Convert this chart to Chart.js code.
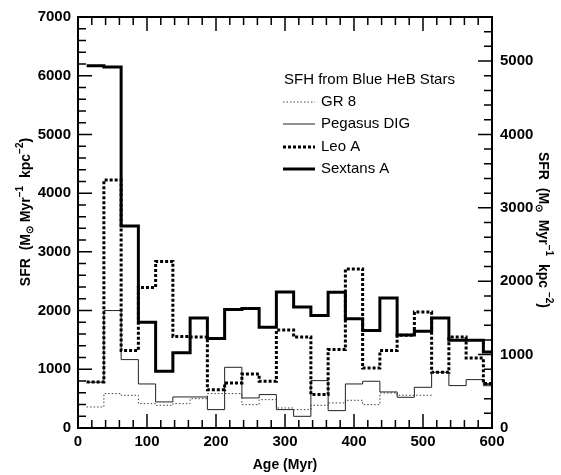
<!DOCTYPE html>
<html>
<head>
<meta charset="utf-8">
<script src="https://cdn.jsdelivr.net/npm/chart.js@4"></script>
<style>
  html, body { margin: 0; padding: 0; background: #fff; }
  canvas { display: block; }
</style>
</head>
<body>
<canvas id="sfhChart" width="561" height="475"></canvas>
<script>
// bin centres (Myr), each bin is 25 Myr wide
const binCenters = [25, 50, 75, 100, 125, 150, 175, 200, 225, 250, 275, 300,
  325, 350, 375, 400, 425, 450, 475, 500, 525, 550, 575, 600];
const binWidth = 25;

const gr8 = [358, 586, 557, 415, 387, 415, 500, 586, 586, 398, 483, 341,
  313, 387, 427, 472, 398, 597, 557, 557];
const pegasusDIG = [780, 2000, 1165, 750, 444, 529, 529, 313, 1034, 512, 569, 313,
  199, 807, 296, 750, 796, 614, 523, 693, 949, 722, 824, 720];
const leoA = [785, 4225, 1320, 2395, 2835, 1560, 1550, 650, 767, 921, 796, 1671,
  1551, 569, 1335, 2710, 1020, 1318, 1580, 1977, 949, 1551, 1193, 756];
const sextansA = [6170, 6150, 3440, 1800, 966, 1280, 1875, 1523, 2017, 2034, 1716, 2318,
  2062, 1915, 2313, 1860, 1659, 2216, 1585, 1648, 1875, 1494, 1494, 1296];

const xTickLabels = [0, 100, 200, 300, 400, 500, 600];
const yTickLabels = [0, 1000, 2000, 3000, 4000, 5000, 6000, 7000];
const y2TickLabels = [0, 1000, 2000, 3000, 4000, 5000];
const y2Max = 5600; // right axis = left axis * 0.8

const seriesNames = ['GR 8', 'Pegasus DIG', 'Leo A', 'Sextans A'];
const legendTitle = 'SFH from Blue HeB Stars';

// turn bin values into step points (left edge of every bin + right edge of last)
function toSteps(vals) {
  const pts = vals.map((v, i) => ({ x: binCenters[i] - binWidth / 2, y: v }));
  const last = vals.length - 1;
  pts.push({ x: binCenters[last] + binWidth / 2, y: vals[last] });
  return pts;
}

const styles = [
  { color: '#444', width: 1, dash: [1.5, 2] },
  { color: '#222', width: 1, dash: [] },
  { color: '#000', width: 3, dash: [3, 2] },
  { color: '#000', width: 3, dash: [] }
];

const datasets = [gr8, pegasusDIG, leoA, sextansA].map((vals, i) => ({
  label: seriesNames[i],
  data: toSteps(vals),
  stepped: 'before',
  borderColor: styles[i].color,
  borderWidth: styles[i].width,
  borderDash: styles[i].dash,
  pointRadius: 0,
  fill: false,
  order: 4 - i
}));

function drawRich(ctx, parts, cx, cy, angle, size) {
  ctx.save();
  ctx.translate(cx, cy);
  ctx.rotate(angle);
  ctx.textBaseline = 'middle';
  ctx.textAlign = 'left';
  const small = Math.round(size * 0.68);
  let total = 0;
  parts.forEach(p => {
    ctx.font = 'bold ' + (p.sup || p.sub ? small : size) + 'px "Liberation Sans", Arial, sans-serif';
    p.w = ctx.measureText(p.t).width;
    total += p.w;
  });
  let x = -total / 2;
  parts.forEach(p => {
    ctx.font = 'bold ' + (p.sup || p.sub ? small : size) + 'px "Liberation Sans", Arial, sans-serif';
    const dy = p.sup ? -6 : (p.sub ? 4 : 0);
    ctx.fillText(p.t, x, dy);
    x += p.w;
  });
  ctx.restore();
}

const framePlugin = {
  id: 'frame',
  afterDraw(chart) {
    const { ctx, chartArea: a } = chart;
    const xs = chart.scales.x, ys = chart.scales.y, y2 = chart.scales.y2;
    ctx.save();
    ctx.strokeStyle = '#000';
    ctx.lineWidth = 2;
    ctx.strokeRect(a.left, a.top, a.right - a.left, a.bottom - a.top);

    // inward ticks
    ctx.lineWidth = 1.5;
    ctx.beginPath();
    for (let v = xs.min; v <= xs.max; v += 20) {
      const px = xs.getPixelForValue(v);
      const len = v % 100 === 0 ? 14 : 8;
      ctx.moveTo(px, a.bottom); ctx.lineTo(px, a.bottom - len);
      ctx.moveTo(px, a.top); ctx.lineTo(px, a.top + len);
    }
    for (let v = ys.min; v <= ys.max; v += 200) {
      const py = ys.getPixelForValue(v);
      const len = v % 1000 === 0 ? 14 : 8;
      ctx.moveTo(a.left, py); ctx.lineTo(a.left + len, py);
    }
    for (let v = y2.min; v <= y2.max; v += 200) {
      const py = y2.getPixelForValue(v);
      const len = v % 1000 === 0 ? 14 : 8;
      ctx.moveTo(a.right, py); ctx.lineTo(a.right - len, py);
    }
    ctx.stroke();

    // axis titles
    ctx.fillStyle = '#000';
    ctx.font = 'bold 14px "Liberation Sans", Arial, sans-serif';
    ctx.textAlign = 'center';
    ctx.textBaseline = 'middle';
    ctx.fillText('Age (Myr)', (a.left + a.right) / 2, 465);

    drawRich(ctx, [
      { t: 'SFR  (M' }, { t: '\u2299', sub: true }, { t: ' Myr' }, { t: '\u22121', sup: true },
      { t: '  kpc' }, { t: '\u22122', sup: true }, { t: ')' }
    ], 26, 212, -Math.PI / 2, 14);

    drawRich(ctx, [
      { t: 'SFR  (M' }, { t: '\u2299', sub: true }, { t: '  Myr' }, { t: '\u22121', sup: true },
      { t: '  kpc ' }, { t: '\u22122', sup: true }, { t: ')' }
    ], 543, 230, Math.PI / 2, 14);

    // legend
    ctx.font = '15px "Liberation Sans", Arial, sans-serif';
    ctx.textAlign = 'left';
    ctx.fillText(legendTitle, 284, 80);
    const rows = [102, 124, 147, 169];
    chart.data.datasets.forEach((ds, i) => {
      ctx.save();
      ctx.strokeStyle = ds.borderColor;
      ctx.lineWidth = ds.borderWidth;
      ctx.setLineDash(ds.borderDash);
      ctx.beginPath();
      ctx.moveTo(283, rows[i]);
      ctx.lineTo(315, rows[i]);
      ctx.stroke();
      ctx.restore();
      ctx.fillText(ds.label, 321, rows[i]);
    });
    ctx.restore();
  }
};

const tickFont = { family: '"Liberation Sans", Arial, sans-serif', size: 15, weight: 'bold' };
const setTicks = list => s => { s.ticks = list.map(v => ({ value: v })); };

new Chart(document.getElementById('sfhChart').getContext('2d'), {
  type: 'line',
  data: { datasets },
  options: {
    responsive: false,
    animation: false,
    devicePixelRatio: 1,
    layout: { padding: { top: 17, left: 0, right: 0, bottom: 0 } },
    plugins: { legend: { display: false }, tooltip: { enabled: false } },
    scales: {
      x: {
        type: 'linear', min: 0, max: 600,
        afterBuildTicks: setTicks(xTickLabels),
        ticks: { font: tickFont, color: '#000', padding: 5, maxRotation: 0, autoSkip: false, callback: v => String(v) },
        grid: { display: false, drawTicks: false },
        border: { display: false },
        afterFit: s => { s.height = 47; }
      },
      y: {
        position: 'left', min: 0, max: 7000,
        afterBuildTicks: setTicks(yTickLabels),
        ticks: { font: tickFont, color: '#000', padding: 7, autoSkip: false, callback: v => String(v) },
        grid: { display: false, drawTicks: false },
        border: { display: false },
        afterFit: s => { s.width = 78; }
      },
      y2: {
        position: 'right', min: 0, max: y2Max,
        afterBuildTicks: setTicks(y2TickLabels),
        ticks: { font: tickFont, color: '#000', padding: 8, autoSkip: false, callback: v => String(v) },
        grid: { display: false, drawTicks: false },
        border: { display: false },
        afterFit: s => { s.width = 69; }
      }
    }
  },
  plugins: [framePlugin]
});
</script>
</body>
</html>
